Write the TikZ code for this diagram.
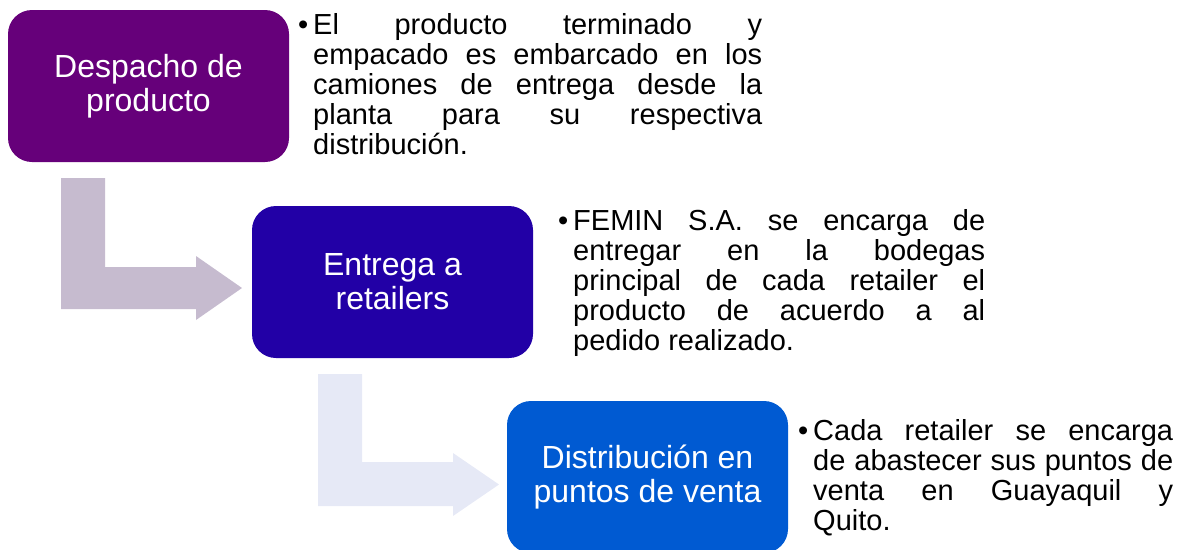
\documentclass[tikz,border=0pt]{standalone}
\usepackage{fontspec}
\setmainfont{Liberation Sans}
\definecolor{cA}{RGB}{102,0,122}
\definecolor{cB}{RGB}{34,0,166}
\definecolor{cC}{RGB}{0,90,210}
\definecolor{arA}{RGB}{198,187,207}
\definecolor{arB}{RGB}{230,233,246}
\tolerance=10000
\hbadness=10000
\newcommand\bulpar[2]{\parbox[t]{#1}{\fontsize{29}{30}\selectfont
  \lineskiplimit=-100pt\lineskip=0pt\leftskip=15pt\rightskip=0pt\parindent=0pt
  \noindent\hspace*{-15pt}\makebox[15pt][l]{•}#2\par}}
\begin{document}
\begin{tikzpicture}[x=1pt,y=-1pt,
  procbox/.style={rounded corners=24pt, minimum width=281pt, minimum height=152pt,
    inner sep=0pt, text=white, align=center, font=\fontsize{32}{34}\selectfont},
  desc/.style={anchor=base west, inner sep=0pt},
  bentarrow/.style={draw=none}]
\useasboundingbox (0,0) rectangle (1186,549);
% bent arrows
\fill[bentarrow, arA] (61,178) -- (105,178) -- (105,267) -- (196,267) -- (196,256)
  -- (242,288) -- (196,320) -- (196,309) -- (61,309) -- cycle;
\fill[bentarrow, arB] (318,374) -- (362,374) -- (362,462) -- (453,462) -- (453,453)
  -- (499,484.5) -- (453,516) -- (453,506) -- (318,506) -- cycle;
% boxes
\node[procbox, fill=cA] (b1) at (148.5,86) {Despacho de\\producto};
\node[procbox, fill=cB] (b2) at (392.5,282) {Entrega a\\retailers};
\node[procbox, fill=cC] (b3) at (647.5,477) {Distribución en\\puntos de venta};
% descriptions
\node[desc] (d1) at (298,34) {\bulpar{464pt}{El producto terminado y\linebreak
  empacado es embarcado en los\linebreak camiones de entrega desde la\linebreak
  planta para su respectiva\linebreak distribución.}};
\node[desc] (d2) at (558,230) {\bulpar{427pt}{FEMIN S.A. se encarga de\linebreak
  entregar en la bodegas\linebreak principal de cada retailer el\linebreak
  producto de acuerdo a al\linebreak pedido realizado.}};
\node[desc] (d3) at (798,440) {\bulpar{375pt}{Cada retailer se encarga\linebreak
  de abastecer sus puntos de\linebreak venta en Guayaquil y\linebreak Quito.}};
\end{tikzpicture}
\end{document}
